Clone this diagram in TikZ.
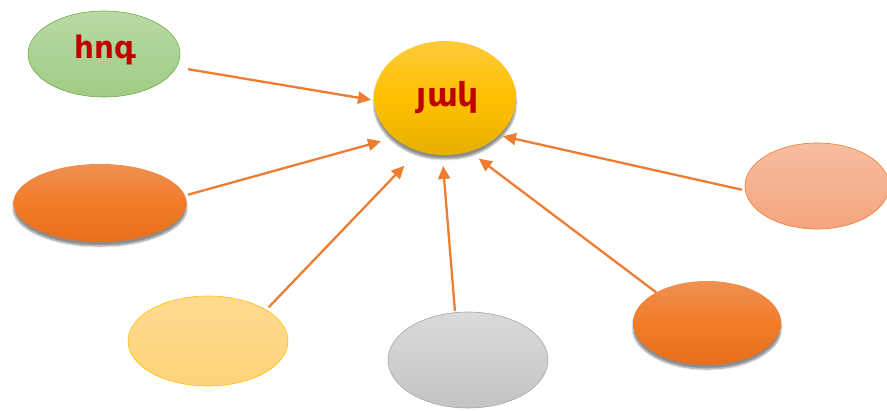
\documentclass[tikz,border=0pt]{standalone}
\usepackage{fontspec}
\newfontfamily\armfont{DejaVu Sans}
\usetikzlibrary{shapes.geometric,shadows.blur,arrows.meta}
\definecolor{arrowc}{HTML}{ED7D31}
\definecolor{txtred}{HTML}{C00000}
\tikzset{
  bubble/.style={ellipse, inner sep=0pt},
  shad/.style={blur shadow={shadow xshift=0pt, shadow yshift=-4pt, shadow blur steps=8, shadow blur extra rounding=2pt, shadow opacity=45}},
  link/.style={draw=arrowc, line width=2.3pt, -{Triangle[length=13pt,width=12pt]}, shorten <=1pt, shorten >=1pt},
  lbl/.style={font=\armfont\bfseries\fontsize{31}{34}\selectfont, text=txtred}
}
\begin{document}
\begin{tikzpicture}[x=1pt,y=-1pt]
\useasboundingbox (0,0) rectangle (887,411);
\clip (0,0) rectangle (887,411);
% nodes
\node[bubble, minimum width=152pt, minimum height=86pt, draw={rgb,255:red,112;green,173;blue,71}, line width=0.6pt,
  top color={rgb,255:red,184;green,218;blue,164}, bottom color={rgb,255:red,160;green,203;blue,133}] (hoq) at (104,54) {};
\node[lbl] at (105,50) {հոգ};
\node[bubble, shad, minimum width=142pt, minimum height=114pt,
  top color={rgb,255:red,255;green,202;blue,58}, bottom color={rgb,255:red,230;green,176;blue,0}, middle color={rgb,255:red,255;green,192;blue,0}] (yak) at (445,98) {};
\node[lbl, font=\armfont\bfseries\fontsize{33}{36}\selectfont] at (448,98) {յակ};
\node[bubble, shad, minimum width=173pt, minimum height=78pt,
  top color={rgb,255:red,240;green,144;blue,82}, bottom color={rgb,255:red,232;green,110;blue,26}, middle color={rgb,255:red,241;green,124;blue,40}] (ol) at (100,203) {};
\node[bubble, minimum width=160pt, minimum height=90pt, draw={rgb,255:red,255;green,192;blue,0}, line width=0.6pt,
  top color={rgb,255:red,255;green,218;blue,144}, bottom color={rgb,255:red,253;green,212;blue,122}] (yl) at (208,341) {};
\node[bubble, minimum width=160pt, minimum height=96pt, draw={rgb,255:red,165;green,165;blue,165}, line width=0.6pt,
  top color={rgb,255:red,218;green,218;blue,218}, bottom color={rgb,255:red,196;green,196;blue,196}] (gr) at (468,360) {};
\node[bubble, shad, minimum width=148pt, minimum height=84pt,
  top color={rgb,255:red,240;green,144;blue,82}, bottom color={rgb,255:red,232;green,110;blue,26}, middle color={rgb,255:red,241;green,124;blue,40}] (obr) at (707,323) {};
\node[bubble, minimum width=144pt, minimum height=86pt, draw=arrowc, line width=0.6pt,
  top color={rgb,255:red,247;green,190;blue,160}, bottom color={rgb,255:red,244;green,164;blue,126}] (sa) at (817,186) {};
% connectors
\coordinate (t1) at (372,100);
\coordinate (t2) at (382,141);
\coordinate (t3) at (405,165);
\coordinate (t4) at (443,165);
\coordinate (t5) at (478,158);
\coordinate (t6) at (502,136);
\coordinate (s1) at (187,69);
\coordinate (s2) at (187,195);
\coordinate (s3) at (268,308);
\coordinate (s4) at (455,312);
\coordinate (s5) at (657,293);
\coordinate (s6) at (743,190);
\draw[link] (s1) -- (t1);
\draw[link] (s2) -- (t2);
\draw[link] (s3) -- (t3);
\draw[link] (s4) -- (t4);
\draw[link] (s5) -- (t5);
\draw[link] (s6) -- (t6);
\end{tikzpicture}
\end{document}
